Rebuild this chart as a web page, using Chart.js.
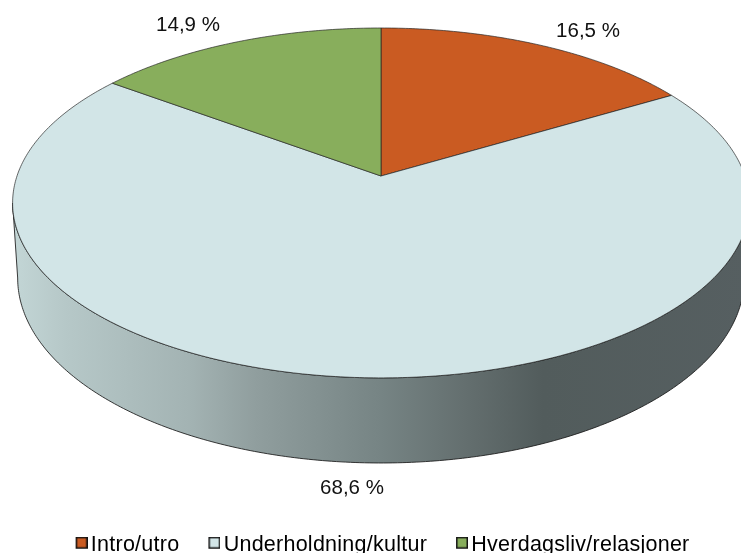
<!DOCTYPE html>
<html><head><meta charset="utf-8">
<style>html,body{margin:0;padding:0;background:#fff}#w{width:741px;height:553px}canvas{display:block}</style>
<script src="https://cdn.jsdelivr.net/npm/chart.js@4/dist/chart.umd.min.js"></script>
</head><body><div id="w"><canvas id="c" width="741" height="553"></canvas></div>
<script>
const categories = ['Intro/utro', 'Underholdning/kultur', 'Hverdagsliv/relasjoner'];
const shares = [16.5, 68.6, 14.9];
const sliceColors = ['#ca5b22', '#d2e5e7', '#88ae5c'];

const FONT = 'Liberation Sans, Arial, sans-serif';
const legendGap = 32.5;
const top3d = {cx: 381, cy: 176, rx: 364, ry: 170.8};
const base3d = {cx: 381, cy: 249.5, rx: 359, ry: 180.6};
const tilt = -0.154;
function project(p, a) {
  const u = Math.cos(a), v = Math.sin(a), w = 1 + tilt * v;
  return [p.cx + p.rx * u / w, p.cy + p.ry * v / w];
}
function sampleAngles(a, b) {
  const n = Math.max(2, Math.ceil((b - a) * 90)), r = [];
  for (let i = 0; i <= n; i++) r.push(a + (b - a) * i / n);
  return r;
}
function sideGradient(ctx) {
  const g = ctx.createLinearGradient(13, 0, 749, 0);
  [[0, '#c3d6d6'], [0.07, '#b6c8c8'], [0.24, '#a3b3b3'], [0.33, '#909e9e'],
   [0.5, '#768484'], [0.62, '#636e6e'], [0.72, '#525c5c'], [1, '#565f61']]
    .forEach(s => g.addColorStop(s[0], s[1]));
  return g;
}
function labelPoint(i) {
  return [[588, 31], [352, 488], [188, 25]][i];
}
const pie3d = {
  id: 'pie3d',
  beforeLayout(chart) { chart.ctx.letterSpacing = '0.25px'; },
  beforeDraw(chart) { chart.ctx.letterSpacing = '0.25px'; },
  afterLayout(chart) {
    const l = chart.legend;
    const d = 553 - (l.top + legendGap) - 19;
    l.top += d; l.bottom += d;
    l.left += 13.8; l.right += 13.8;
  },
  beforeDatasetDraw(chart, args) {
    const ctx = chart.ctx, arcs = chart.getDatasetMeta(args.index).data;
    ctx.save();
    ctx.letterSpacing = '0px';
    // side wall of the slices that face the viewer
    arcs.forEach(arc => {
      const lo = Math.asin(-tilt), hi = Math.PI - lo;
      const a = Math.max(arc.startAngle, lo), b = Math.min(arc.endAngle, hi);
      if (b <= a) return;
      const t = sampleAngles(a, b);
      ctx.beginPath();
      t.forEach((x, i) => { const p = project(top3d, x); i ? ctx.lineTo(p[0], p[1]) : ctx.moveTo(p[0], p[1]); });
      t.slice().reverse().forEach(x => { const p = project(base3d, x); ctx.lineTo(p[0], p[1]); });
      ctx.closePath();
      ctx.fillStyle = sideGradient(ctx);
      ctx.fill();
      ctx.strokeStyle = 'rgba(25,25,25,0.85)';
      ctx.lineWidth = 1;
      ctx.stroke();
    });
    // top face
    arcs.forEach((arc, i) => {
      const t = sampleAngles(arc.startAngle, arc.endAngle);
      ctx.beginPath();
      ctx.moveTo(top3d.cx, top3d.cy);
      t.forEach(x => { const p = project(top3d, x); ctx.lineTo(p[0], p[1]); });
      ctx.closePath();
      ctx.fillStyle = sliceColors[i];
      ctx.fill();
      ctx.strokeStyle = 'rgba(35,35,35,0.68)';
      ctx.lineWidth = 1;
      ctx.stroke();
    });
    // value labels
    ctx.fillStyle = '#111';
    ctx.font = '20.5px ' + FONT;
    ctx.textAlign = 'center';
    ctx.textBaseline = 'middle';
    shares.forEach((v, i) => {
      const p = labelPoint(i);
      ctx.fillText(v.toFixed(1).replace('.', ',') + ' %', p[0], p[1]);
    });
    ctx.restore();
    return false;
  }
};
function swatch(color) {
  const s = document.createElement('canvas');
  s.width = 16; s.height = 16;
  const c = s.getContext('2d');
  c.fillStyle = '#111';
  c.fillRect(4, 0, 12, 12);
  c.fillStyle = color;
  c.fillRect(5.5, 1.5, 9, 9);
  return s;
}
new Chart(document.getElementById('c'), {
  type: 'pie',
  data: {labels: categories, datasets: [{data: shares, backgroundColor: sliceColors, borderWidth: 0}]},
  plugins: [pie3d],
  options: {
    responsive: false,
    animation: false,
    rotation: 0,
    layout: {padding: 0},
    plugins: {
      tooltip: {enabled: false},
      legend: {
        position: 'bottom',
        labels: {
          color: '#111',
          font: {family: FONT, size: 21.5},
          usePointStyle: true,
          boxWidth: 1,
          boxHeight: 13,
          padding: legendGap,
          generateLabels: () => categories.map((t, i) => ({
            text: t, pointStyle: swatch(sliceColors[i]), fillStyle: sliceColors[i], strokeStyle: '#111', lineWidth: 0, index: i, hidden: false
          }))
        }
      }
    }
  }
});
</script></body></html>
